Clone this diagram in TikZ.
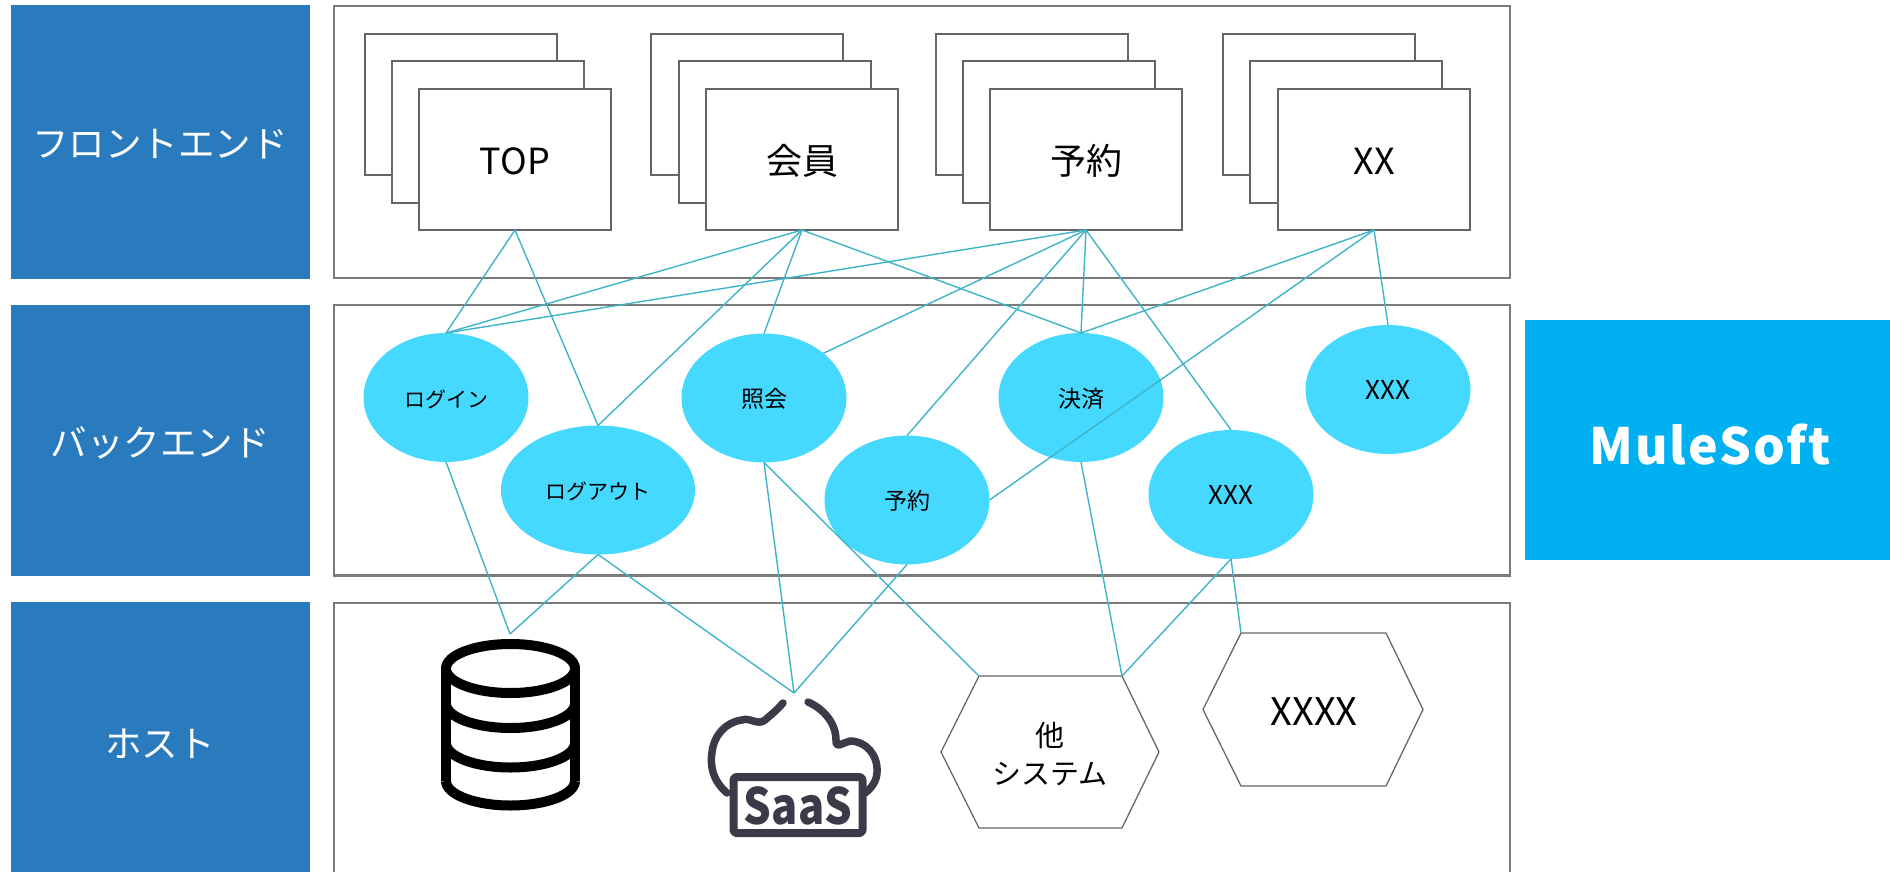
\documentclass[tikz,border=0pt]{standalone}
\usepackage{fontspec}
\setmainfont{Noto Sans CJK JP}
\newfontfamily\mulefont[LetterSpace=4]{Noto Sans CJK JP}
\usetikzlibrary{shapes.geometric}
\definecolor{bandblue}{HTML}{2A7BBE}
\definecolor{mule}{HTML}{00B0F0}
\definecolor{bub}{HTML}{45D9FF}
\definecolor{link}{HTML}{3FB4C9}
\definecolor{panelgrey}{HTML}{7A7A7A}
\definecolor{pagegrey}{HTML}{666666}
\definecolor{saas}{HTML}{3A3A48}
\newcommand{\fs}[1]{\fontsize{#1}{#1}\selectfont}
\tikzset{
  base/.style={inner sep=0,outer sep=0,align=center,text=black},
  band/.style={base,fill=bandblue,text=white,minimum width=299pt,font=\fs{36}},
  panel/.style={base,draw=panelgrey,line width=2.2pt,minimum width=1176pt},
  pagebox/.style={base,draw=pagegrey,line width=2pt,fill=white,minimum width=192pt,minimum height=141pt,font=\fs{36},text height=37pt,text depth=6pt},
  bubble/.style={base,ellipse,fill=bub,minimum width=165pt,minimum height=129pt,font=\fs{21},text height=24pt,text depth=5pt},
  hexline/.style={draw=pagegrey,line width=1.3pt},
  hexlabel/.style={base},
  wire/.style={draw=link,line width=1.4pt},
}
\begin{document}
\begin{tikzpicture}[x=1pt,y=-1pt]
\useasboundingbox (0,0) rectangle (1890,872);
\clip (0,0) rectangle (1890,872);
% left bands
\node[band,minimum height=273pt] (bandF) at (160,142) {};
\node[band,minimum height=271pt] (bandB) at (160,440) {};
\node[band,minimum height=280pt] (bandH) at (160,742) {};
\node[base,text=white,font=\fs{36.5}] (bandFt) at (160,144) {フロントエンド};
\node[base,text=white,font=\fs{36.5}] (bandBt) at (160,443) {バックエンド};
\node[base,text=white,font=\fs{36.5}] (bandHt) at (160,744) {ホスト};
% panels
\node[panel,minimum height=272pt] (panelF) at (922,142) {};
\node[panel,minimum height=270.5pt] (panelB) at (922,440.2) {};
\node[panel,minimum height=290pt] (panelH) at (922,748) {};
% MuleSoft
\node[base,fill=mule,minimum width=370pt,minimum height=240pt] (muleBox) at (1710,440) {};
\node[base,text=white,font=\fs{50}\mulefont\bfseries] (muleText) at (1710,445) {MuleSoft};
% page stacks
\node[pagebox] (a1) at (461,104.5) {};
\node[pagebox] (a2) at (488,132) {};
\node[pagebox] (a3) at (515,159.5) {TOP};
\node[pagebox] (b1) at (747,104.5) {};
\node[pagebox] (b2) at (775,132) {};
\node[pagebox] (b3) at (802,159.5) {会員};
\node[pagebox] (c1) at (1032,104.5) {};
\node[pagebox] (c2) at (1059,132) {};
\node[pagebox] (c3) at (1086,159.5) {予約};
\node[pagebox] (d1) at (1319,104.5) {};
\node[pagebox] (d2) at (1346,132) {};
\node[pagebox] (d3) at (1374,159.5) {XX};
% bubbles
\node[bubble] (login) at (446,397.5) {ログイン};
\node[bubble,minimum width=194pt] (logout) at (598,490) {ログアウト};
\node[bubble,font=\fs{23}] (inquiry) at (764,398) {照会};
\node[bubble,font=\fs{23}] (reserve) at (907,500) {予約};
\node[bubble,font=\fs{23}] (pay) at (1081,397.5) {決済};
\node[bubble,font=\fs{26}] (xxxa) at (1388,389.5) {XXX};
\node[bubble,font=\fs{26}] (xxxb) at (1231,494.5) {XXX};
% hexagons
\coordinate (oTL) at (979,676);
\coordinate (oTR) at (1122,676);
\draw[hexline] (oTL) -- (oTR) -- (1159,752) -- (1122,828) -- (979,828) -- (941,752) -- cycle;
\node[hexlabel,font=\fs{29}] (otherText) at (1050,754) {他\\[9pt]システム};
\coordinate (xTL) at (1241,633);
\draw[hexline] (xTL) -- (1386,633) -- (1423,709.5) -- (1386,786) -- (1241,786) -- (1203,709.5) -- cycle;
\node[hexlabel,font=\fs{38}] (xxxxText) at (1314,712) {XXXX};
% database icon
\coordinate (dbTop) at (510,634);
\begin{scope}[line width=10pt,line join=round,black]
\draw (510.5,668.5) ellipse [x radius=64.5pt,y radius=24.5pt];
\draw (446,668.5) -- (446,781);
\draw (575,668.5) -- (575,781);
\foreach \Y in {703.5,743,781}
  \draw (446,\Y) .. controls (446,\Y+13.5) and (475,\Y+24.5) .. (510.5,\Y+24.5)
        .. controls (546,\Y+24.5) and (575,\Y+13.5) .. (575,\Y);
\end{scope}
% SaaS icon
\coordinate (saasTop) at (794,693);
\begin{scope}[line width=7.5pt,line cap=round,saas,line join=round]
\draw (727,793) .. controls (712,780) and (710,765) .. (712,752)
      .. controls (714,735) and (726,722) .. (742,720)
      .. controls (750,717) and (758,726) .. (765,720)
      .. controls (772,714) and (778,709) .. (783,703);
\draw (808,702) .. controls (822,708) and (836,722) .. (836,740)
      .. controls (836,748) and (838,745) .. (850,741)
      .. controls (866,741) and (878,755) .. (877,772)
      .. controls (877,780) and (872,788) .. (865,793);
\draw[fill=white,rounded corners=3pt,line width=8pt] (733.5,777) rectangle (862.5,833);
\end{scope}
\node[base,text=saas,font=\fs{50}\bfseries,xscale=0.87,transform shape] (saasText) at (798,806) {SaaS};
% connectors
\draw[wire] (a3.south) -- (login.north);
\draw[wire] (a3.south) -- (logout.north);
\draw[wire] (b3.south) -- (login.north);
\draw[wire] (b3.south) -- (logout.north);
\draw[wire] (b3.south) -- (inquiry.north);
\draw[wire] (b3.south) -- (pay.north);
\draw[wire] (c3.south) -- (login.north);
\draw[wire] (c3.south) -- (inquiry.37);
\draw[wire] (c3.south) -- (reserve.north);
\draw[wire] (c3.south) -- (pay.north);
\draw[wire] (c3.south) -- (xxxb.north);
\draw[wire] (d3.south) -- (pay.north);
\draw[wire] (d3.south) -- (reserve.east);
\draw[wire] (d3.south) -- (xxxa.north);
\draw[wire] (login.south) -- (dbTop);
\draw[wire] (logout.south) -- (dbTop);
\draw[wire] (logout.south) -- (saasTop);
\draw[wire] (inquiry.south) -- (saasTop);
\draw[wire] (inquiry.south) -- (oTL);
\draw[wire] (reserve.south) -- (saasTop);
\draw[wire] (pay.south) -- (oTR);
\draw[wire] (xxxb.south) -- (oTR);
\draw[wire] (xxxb.south) -- (xTL);
\end{tikzpicture}
\end{document}
